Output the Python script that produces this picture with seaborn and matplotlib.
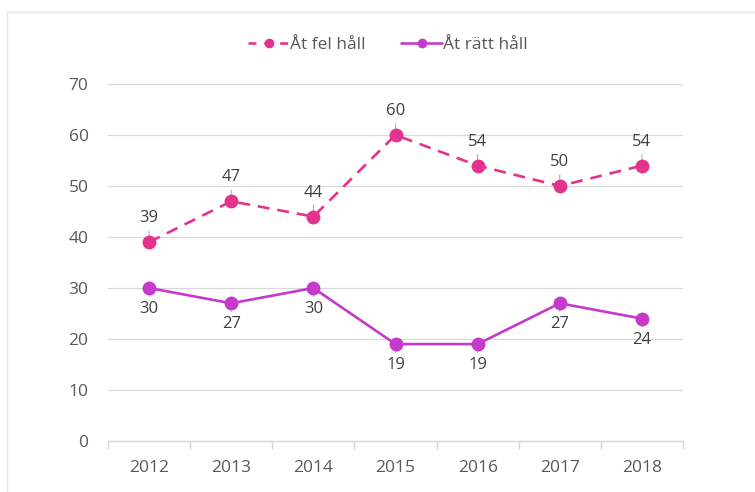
import numpy as np
import pandas as pd
import matplotlib
matplotlib.use("Agg")
import matplotlib.pyplot as plt
import seaborn as sns
from matplotlib.lines import Line2D
from matplotlib.patches import Rectangle

years = ["2012", "2013", "2014", "2015", "2016", "2017", "2018"]
fel = [39, 47, 44, 60, 54, 50, 54]
ratt = [30, 27, 30, 19, 19, 27, 24]
series_names = ["Åt fel håll", "Åt rätt håll"]
yticks = [0, 10, 20, 30, 40, 50, 60, 70]

sns.set_theme(style="white")
plt.rcParams["font.family"] = ["Open Sans", "DejaVu Sans"]

c_fel = "#E4338D"
c_ratt = "#C53ACB"
txt = "#595959"
grid = "#D9D9D9"

fig = plt.figure(figsize=(7.55, 4.92), dpi=100)
fig.patch.set_facecolor("white")
card = Rectangle((7 / 755, -0.05), 1.0, 1 - 12 / 492 + 0.05,
                 transform=fig.transFigure, facecolor="none", edgecolor="#E6E6E6",
                 linewidth=1.0, zorder=-10)
fig.patches.append(card)

ax = fig.add_axes([108 / 755, 1 - 441 / 492, (683 - 108) / 755, (441 - 84) / 492])
ax.set_facecolor("none")
ax.set_zorder(2)

x = np.arange(len(years))
df = pd.DataFrame({
    "x": np.concatenate([x, x]),
    "v": fel + ratt,
    "s": [series_names[0]] * len(x) + [series_names[1]] * len(x),
})

sns.lineplot(data=df[df.s == series_names[0]], x="x", y="v", ax=ax, color=c_fel,
             lw=1.9, marker="o", markersize=10, markeredgewidth=0, legend=False)
ax.lines[-1].set_dashes([4.5, 3])
sns.lineplot(data=df[df.s == series_names[1]], x="x", y="v", ax=ax, color=c_ratt,
             lw=1.9, marker="o", markersize=10, markeredgewidth=0, legend=False)

for xi, v in zip(x, fel):
    ax.annotate(str(v), xy=(xi, v), xytext=(0, 24), textcoords="offset pixels",
                ha="center", va="center", fontsize=12, color="#404040", zorder=1,
                arrowprops=dict(arrowstyle="-", color="#A6A6A6", lw=0.7, shrinkA=1, shrinkB=1))
for xi, v in zip(x, ratt):
    ax.annotate(str(v), xy=(xi, v), xytext=(0, -21), textcoords="offset pixels",
                ha="center", va="center", fontsize=12, color="#404040", zorder=1,
                arrowprops=dict(arrowstyle="-", color="#A6A6A6", lw=0.7, shrinkA=1, shrinkB=1))

ax.set_xlim(-0.5, len(years) - 0.5)
ax.set_ylim(0, 70)
ax.set_yticks(yticks)
ax.set_yticklabels([str(t) for t in yticks], fontsize=12.5, color=txt)
ax.set_xticks(x)
ax.set_xticklabels(years, fontsize=12.5, color=txt)
ax.set_xticks(np.arange(-0.5, len(years)), minor=True)
ax.tick_params(axis="x", which="major", length=0, pad=14)
ax.tick_params(axis="x", which="minor", length=6, color=grid, width=1, direction="out", bottom=True)
ax.tick_params(axis="y", length=0, pad=14)
ax.yaxis.grid(True, color=grid, lw=0.9)
ax.xaxis.grid(False)
ax.set_axisbelow(True)
for s in ["left", "right", "top"]:
    ax.spines[s].set_visible(False)
ax.spines["bottom"].set_color(grid)
ax.spines["bottom"].set_linewidth(1)
ax.set_xlabel("")
ax.set_ylabel("")

handles = [
    Line2D([], [], color=c_fel, lw=1.9, dashes=[3, 3], marker="o", markersize=7, markeredgewidth=0),
    Line2D([], [], color=c_ratt, lw=1.9, marker="o", markersize=7, markeredgewidth=0),
]
fig.legend(handles, series_names, loc="center", bbox_to_anchor=(388 / 755, 1 - 45 / 492),
           ncol=2, frameon=False, fontsize=12.5, labelcolor=txt, handlelength=2.4,
           handletextpad=0.05, columnspacing=2.0)

fig.savefig("out.png", dpi=100, facecolor="white")
